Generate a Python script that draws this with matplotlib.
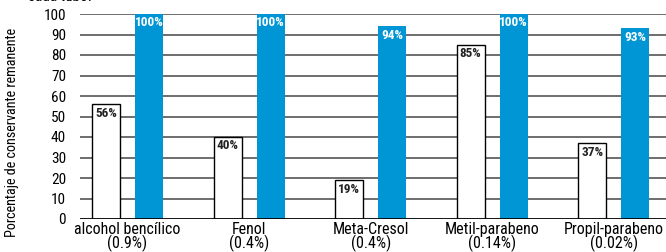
import matplotlib
matplotlib.use("Agg")
import matplotlib.pyplot as plt
import numpy as np

plt.rcParams['font.family'] = ['Roboto Condensed', 'DejaVu Sans']

categories = ["alcohol bencílico\n(0.9%)", "Fenol\n(0.4%)", "Meta-Cresol\n(0.4%)",
              "Metil-parabeno\n(0.14%)", "Propil-parabeno\n(0.02%)"]
white_vals = [56, 40, 19, 85, 37]
blue_vals = [100, 100, 94, 100, 93]
yticks = list(range(0, 101, 10))

BLUE = "#0096d6"

fig = plt.figure(figsize=(6.66, 2.52), dpi=100)
ax = fig.add_axes([80 / 666, 33 / 252, 586 / 666, 205 / 252])

x = np.arange(len(categories))
w = 0.23
off = 0.177

for yv in yticks[1:]:
    ax.axhline(yv, color="#555555", lw=1.2, zorder=0)

ax.bar(x - off, white_vals, w, color="white", edgecolor="black", lw=1.0, zorder=2)
ax.bar(x + off, blue_vals, w, color=BLUE, edgecolor="none", zorder=2)

for xi, v in zip(x, white_vals):
    ax.text(xi - off, v - 1.2, "%d%%" % v, ha="center", va="top",
            fontsize=9.5, fontweight="bold", color="#222222", zorder=3)
for xi, v in zip(x, blue_vals):
    ax.text(xi + off, v - 1.2, "%d%%" % v, ha="center", va="top",
            fontsize=9.5, fontweight="bold", color="white", zorder=3)

ax.axhline(0, color="black", lw=2, zorder=4)

ax.set_xlim(-0.391, 4.43)
ax.set_ylim(0, 100)
ax.set_yticks(yticks)
ax.set_yticklabels([str(t) for t in yticks], fontsize=11)
ax.set_xticks(x)
ax.set_xticklabels(categories, fontsize=11.5, linespacing=0.85)
ax.tick_params(axis="x", length=0, pad=2)
ax.tick_params(axis="y", length=0, pad=10)
for s in ax.spines.values():
    s.set_visible(False)

ax.set_ylabel("Porcentaje de conservante remanente", fontsize=10.2)
ax.yaxis.set_label_coords(-0.104, 0.42)

fig.text(28 / 666, 1.0 + 3 / 252, "cada tubo.", fontsize=11, va="center", ha="left")

fig.savefig("out.png", dpi=100)
